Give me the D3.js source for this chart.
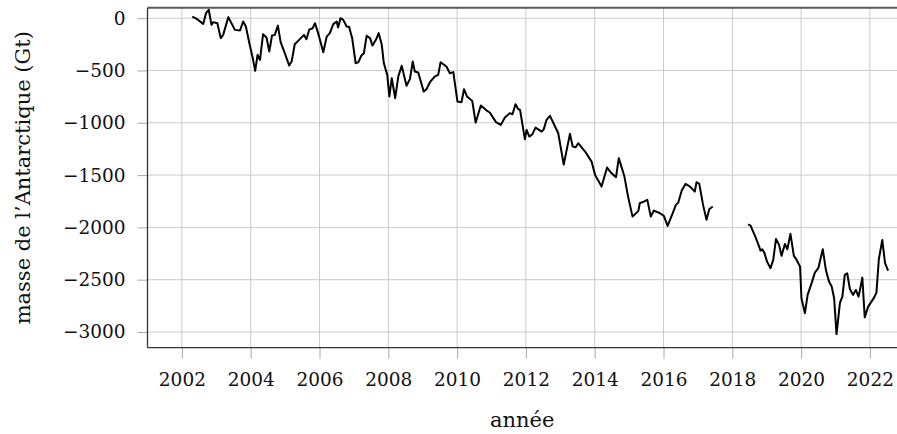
<!DOCTYPE html>
<html>
<head>
<meta charset="utf-8">
<script src="https://cdn.jsdelivr.net/npm/d3@7"></script>
<style>
  body { margin: 0; background: #fff; }
  svg text { font-family: "DejaVu Serif", serif; fill: #111; }
</style>
</head>
<body>
<svg width="897" height="434"></svg>
<script>
// GRACE period (2002 - mid 2017), decimal year / mass anomaly in Gt
var graceYears = [2002.30, 2002.43, 2002.62, 2002.70, 2002.78, 2002.86, 2002.91, 2003.03, 2003.13, 2003.20,
  2003.35, 2003.54, 2003.69, 2003.78, 2003.86, 2003.96, 2004.06, 2004.13, 2004.20, 2004.27,
  2004.36, 2004.46, 2004.54, 2004.62, 2004.70, 2004.79, 2004.87, 2004.99, 2005.12, 2005.19,
  2005.28, 2005.43, 2005.55, 2005.62, 2005.70, 2005.80, 2005.87, 2005.96, 2006.11, 2006.21,
  2006.30, 2006.40, 2006.50, 2006.54, 2006.61, 2006.69, 2006.79, 2006.86, 2006.95, 2007.05,
  2007.13, 2007.22, 2007.29, 2007.37, 2007.47, 2007.54, 2007.64, 2007.72, 2007.81, 2007.87,
  2007.97, 2008.03, 2008.10, 2008.20, 2008.29, 2008.39, 2008.53, 2008.63, 2008.71, 2008.77,
  2008.87, 2009.03, 2009.11, 2009.21, 2009.35, 2009.45, 2009.52, 2009.62, 2009.69, 2009.79,
  2009.89, 2010.01, 2010.13, 2010.20, 2010.29, 2010.44, 2010.54, 2010.69, 2010.86, 2010.95,
  2011.13, 2011.27, 2011.39, 2011.53, 2011.61, 2011.70, 2011.78, 2011.83, 2011.97, 2012.02,
  2012.10, 2012.19, 2012.28, 2012.46, 2012.52, 2012.60, 2012.70, 2012.94, 2013.10, 2013.28,
  2013.36, 2013.45, 2013.52, 2013.72, 2013.91, 2014.01, 2014.20, 2014.36, 2014.46, 2014.62,
  2014.70, 2014.86, 2014.97, 2015.10, 2015.27, 2015.31, 2015.43, 2015.53, 2015.63, 2015.72,
  2015.90, 2016.01, 2016.12, 2016.26, 2016.36, 2016.43, 2016.53, 2016.64, 2016.77, 2016.91,
  2016.96, 2017.04, 2017.15, 2017.25, 2017.33, 2017.43];
var graceMass = [15, -7, -55, 48, 80, -64, -38, -48, -191, -160,
  10, -112, -118, -32, -80, -239, -382, -504, -351, -399,
  -153, -185, -319, -166, -160, -71, -229, -335, -453, -415,
  -249, -200, -160, -201, -110, -96, -48, -143, -325, -176,
  -143, -57, -32, -90, 0, -16, -80, -83, -191, -430,
  -421, -357, -335, -169, -191, -262, -207, -143, -255, -430,
  -542, -749, -574, -765, -558, -456, -647, -580, -415, -510,
  -520, -702, -679, -612, -558, -542, -421, -446, -462, -526,
  -516, -797, -803, -679, -749, -791, -998, -835, -883, -902,
  -994, -1020, -950, -908, -918, -822, -870, -877, -1157, -1068,
  -1132, -1109, -1046, -1084, -1061, -972, -934, -1100, -1400, -1106,
  -1227, -1233, -1195, -1275, -1371, -1498, -1610, -1428, -1472, -1520,
  -1338, -1508, -1706, -1897, -1842, -1769, -1753, -1737, -1897, -1839,
  -1865, -1890, -1986, -1871, -1785, -1763, -1648, -1584, -1610, -1658,
  -1568, -1584, -1785, -1928, -1826, -1801];

// GRACE-FO period (mid 2018 onwards)
var foYears = [2018.46, 2018.53, 2018.66, 2018.78, 2018.82, 2018.87, 2018.93, 2019.01, 2019.11, 2019.19,
  2019.27, 2019.36, 2019.43, 2019.53, 2019.60, 2019.69, 2019.79, 2019.87, 2019.97, 2020.01,
  2020.11, 2020.19, 2020.31, 2020.40, 2020.50, 2020.63, 2020.72, 2020.81, 2020.89, 2020.96,
  2021.03, 2021.13, 2021.20, 2021.27, 2021.34, 2021.42, 2021.51, 2021.59, 2021.67, 2021.71,
  2021.78, 2021.85, 2021.95, 2022.13, 2022.19, 2022.26, 2022.36, 2022.44, 2022.53];
var foMass = [-1970, -1983, -2081, -2184, -2222, -2209, -2241, -2327, -2390, -2311,
  -2110, -2167, -2272, -2158, -2209, -2062, -2272, -2311, -2375, -2677,
  -2820, -2645, -2528, -2432, -2390, -2209, -2406, -2518, -2566, -2677,
  -3020, -2719, -2662, -2454, -2438, -2591, -2645, -2598, -2662, -2598,
  -2480, -2860, -2757, -2667, -2623, -2304, -2120, -2342, -2413];

var xTicks = [2002, 2004, 2006, 2008, 2010, 2012, 2014, 2016, 2018, 2020, 2022];
var yTicks = [0, -500, -1000, -1500, -2000, -2500, -3000];

var plotLeft = 147.5, plotTop = 7.7, plotBottom = 347.7, plotRight = 897;
var svg = d3.select("svg");

var x = d3.scaleLinear().domain([2001, 2023]).range([plotLeft, plotLeft + 22 * 34.4]);
var y = d3.scaleLinear().domain([-3150, 100]).range([plotBottom, plotTop]);

// grid
svg.append("g").selectAll("line").data(xTicks).enter().append("line")
  .attr("x1", d => x(d)).attr("x2", d => x(d))
  .attr("y1", plotTop).attr("y2", plotBottom)
  .attr("stroke", "#cbcbcb").attr("stroke-width", 1);
svg.append("g").selectAll("line").data(yTicks).enter().append("line")
  .attr("x1", plotLeft).attr("x2", plotRight)
  .attr("y1", d => y(d)).attr("y2", d => y(d))
  .attr("stroke", "#cbcbcb").attr("stroke-width", 1);

// axes
var fmt = d => (d < 0 ? "\u2212" + Math.abs(d) : String(d));
var yAxis = d3.axisLeft(y).tickValues(yTicks).tickSize(10).tickPadding(12).tickFormat(fmt);
var xAxis = d3.axisBottom(x).tickValues(xTicks).tickSize(11).tickPadding(14).tickFormat(d3.format("d"));

var gy = svg.append("g").attr("transform", "translate(" + plotLeft + ",0)").call(yAxis);
var gx = svg.append("g").attr("transform", "translate(0," + plotBottom + ")").call(xAxis);
[gx, gy].forEach(function(g) {
  g.select(".domain").remove();
  g.selectAll(".tick line").attr("stroke", "#aaa");
  g.selectAll(".tick text").style("font-size", "18.5px").style("font-family", "DejaVu Serif, serif").attr("fill", "#111");
});

// frame
svg.append("line").attr("x1", plotLeft).attr("x2", plotRight).attr("y1", plotTop).attr("y2", plotTop)
  .attr("stroke", "#5a5a5a").attr("stroke-width", 2);
svg.append("line").attr("x1", plotLeft).attr("x2", plotLeft).attr("y1", plotTop).attr("y2", plotBottom)
  .attr("stroke", "#333").attr("stroke-width", 1.3);
svg.append("line").attr("x1", plotLeft).attr("x2", plotRight).attr("y1", plotBottom).attr("y2", plotBottom)
  .attr("stroke", "#333").attr("stroke-width", 1.3);

// data lines
var line = d3.line().x(d => x(d[0])).y(d => y(d[1]));
svg.append("path").datum(d3.zip(graceYears, graceMass)).attr("d", line)
  .attr("fill", "none").attr("stroke", "#000").attr("stroke-width", 2).attr("stroke-linejoin", "round");
svg.append("path").datum(d3.zip(foYears, foMass)).attr("d", line)
  .attr("fill", "none").attr("stroke", "#000").attr("stroke-width", 2).attr("stroke-linejoin", "round");

// labels
svg.append("text").attr("x", (plotLeft + plotRight) / 2).attr("y", 427)
  .attr("text-anchor", "middle").style("font-size", "21px").text("année");
svg.append("text").attr("transform", "translate(30," + ((plotTop + plotBottom) / 2) + ") rotate(-90)")
  .attr("text-anchor", "middle").style("font-size", "21px").text("masse de l\u2019Antarctique (Gt)");
</script>
</body>
</html>
